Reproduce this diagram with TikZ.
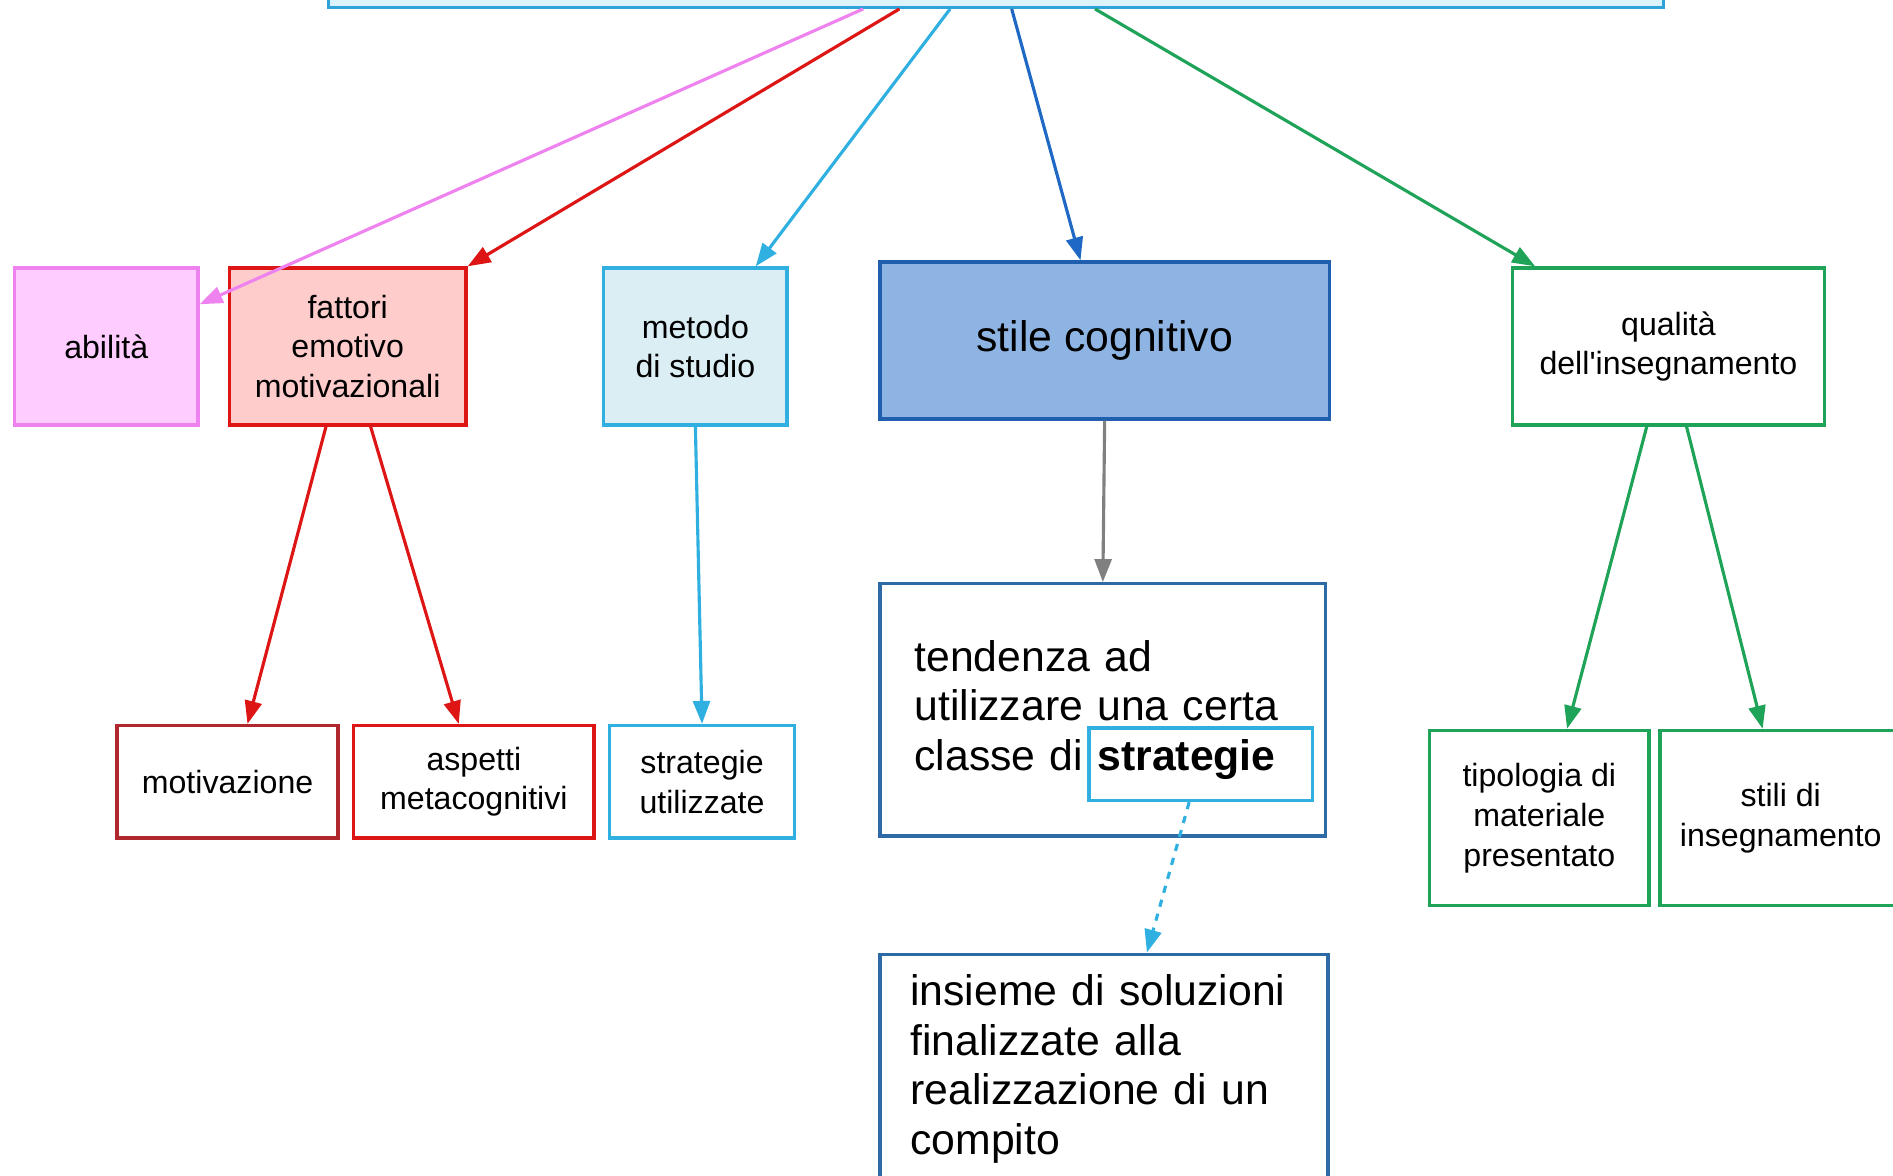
\documentclass[tikz,border=0pt]{standalone}
\usepackage{fontspec}
\setmainfont{Liberation Sans}
\usetikzlibrary{arrows.meta}
\definecolor{topfill}{HTML}{DAF3FC}
\definecolor{topline}{HTML}{2FA3DA}
\definecolor{pinkfill}{HTML}{FFCCFF}
\definecolor{pinkline}{HTML}{EE82EE}
\definecolor{redfill}{HTML}{FFCCCC}
\definecolor{redline}{HTML}{DD1515}
\definecolor{darkred}{HTML}{B0282E}
\definecolor{cyanfill}{HTML}{DAEEF4}
\definecolor{cyanline}{HTML}{2FB0E0}
\definecolor{bluefill}{HTML}{8EB4E3}
\definecolor{blueline}{HTML}{1F5FAE}
\definecolor{boxblue}{HTML}{2E6AA6}
\definecolor{arrblue}{HTML}{1F68C4}
\definecolor{greenline}{HTML}{1EA358}
\definecolor{grayline}{HTML}{808080}

\begin{document}
\begin{tikzpicture}[x=0.5pt,y=-0.5pt,
  every node/.style={draw,rectangle,line width=1.4pt,inner sep=0pt,align=center,
    font=\fontsize{13.3}{16.5}\selectfont},
  big/.style={font=\fontsize{17.7}{20.5}\selectfont},
  arr/.style={line width=1.3pt,-{Triangle[length=9.5pt,width=7pt]}}]
  \useasboundingbox (0,0) rectangle (1568,974);
  % top row
  \node[fill=topfill,draw=topline,minimum width=553pt,minimum height=45pt] (top) at (825,-39) {};
  \node[fill=pinkfill,draw=pinkline,minimum width=76pt,minimum height=65pt] (abilita) at (88,287) {abilità};
  \node[fill=redfill,draw=redline,minimum width=98pt,minimum height=65pt] (fattori) at (288,287) {fattori\\emotivo\\motivazionali};
  \node[fill=cyanfill,draw=cyanline,minimum width=76pt,minimum height=65pt] (metodo) at (576,287) {metodo\\di studio};
  \node[big,fill=bluefill,draw=blueline,minimum width=186pt,minimum height=65pt] (stile) at (915,282) {stile cognitivo};
  \node[draw=greenline,minimum width=129pt,minimum height=65pt] (qualita) at (1382,287) {qualità\\dell\textquotesingle insegnamento};
  % second row
  \node[draw=darkred,minimum width=91.5pt,minimum height=46.5pt] (motiv) at (188.5,647.5) {motivazione};
  \node[draw=redline,minimum width=99.5pt,minimum height=46.5pt] (aspetti) at (392.5,647.5) {aspetti\\metacognitivi};
  \node[draw=cyanline,minimum width=76.5pt,minimum height=46.5pt] (strategie) at (581.5,647.5) {strategie\\utilizzate};
  \node[big,draw=boxblue,align=left,text width=156pt,minimum width=184.5pt,minimum height=104.5pt] (tendenza) at (913.5,588)
    {tendenza ad\\utilizzare una certa\\classe di \textbf{strategie}};
  \node[draw=cyanline,minimum width=92.5pt,minimum height=30pt] (strat) at (994.5,633) {};
  \node[draw=greenline,minimum width=91pt,minimum height=72.5pt] (tipologia) at (1275,677.5) {tipologia di\\materiale\\presentato};
  \node[draw=greenline,minimum width=100pt,minimum height=72.5pt] (stili) at (1475,677.5) {stili di\\insegnamento};
  % bottom
  \node[big,draw=boxblue,align=left,text width=160.5pt,inner xsep=12.5pt,inner ysep=8.5pt,text depth=75pt,anchor=north] (insieme) at (914.5,789)
    {insieme di soluzioni\\finalizzate alla\\realizzazione di un\\compito};
  % arrows
  \draw[arr,pinkline] ([xshift=-55pt]top.south) -- ([yshift=17.5pt]abilita.east);
  \draw[arr,redline] ([xshift=-40pt]top.south) -- (fattori.north east);
  \draw[arr,cyanline] ([xshift=-19pt]top.south) -- ([xshift=25pt]metodo.north);
  \draw[arr,arrblue] ([xshift=6.5pt]top.south) -- ([xshift=-10pt]stile.north);
  \draw[arr,greenline] ([xshift=41pt]top.south) -- ([xshift=10pt]qualita.north west);
  \draw[arr,redline] ([xshift=-9pt]fattori.south) -- ([xshift=8.25pt]motiv.north);
  \draw[arr,redline] ([xshift=9.5pt]fattori.south) -- ([xshift=-6.25pt]aspetti.north);
  \draw[arr,cyanline] (metodo.south) -- (strategie.north);
  \draw[arr,grayline] (stile.south) -- (tendenza.north);
  \draw[arr,cyanline,dash pattern=on 3pt off 3pt] ([xshift=-4.75pt]strat.south) -- ([xshift=17.75pt]insieme.north);
  \draw[arr,greenline] ([xshift=-9pt]qualita.south) -- ([xshift=11.5pt]tipologia.north);
  \draw[arr,greenline] ([xshift=7.5pt]qualita.south) -- ([xshift=-7.5pt]stili.north);
\end{tikzpicture}
\end{document}
